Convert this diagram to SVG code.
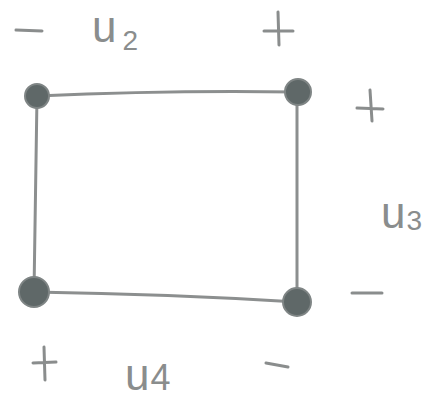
<svg xmlns="http://www.w3.org/2000/svg" width="426" height="401" viewBox="0 0 426 401">
<style>
.edge{stroke:#8c8f8f;stroke-width:3;fill:none;stroke-linecap:round}
.node{fill:#5f6868;stroke:#7f8585;stroke-width:2}
.lbl{font-family:"Liberation Sans",sans-serif;fill:#8a8d8d;font-size:44px}
.sub{font-size:28px}
.sign{stroke:#8a8d8d;stroke-width:3;stroke-linecap:round;fill:none}
</style>
<rect width="426" height="401" fill="#ffffff"/>
<g id="connectors">
<path class="edge" d="M37,96 Q170,90 297,92"/>
<path class="edge" d="M37,96 L34,292"/>
<path class="edge" d="M297,92 L297,302"/>
<path class="edge" d="M34,292 Q170,294 297,302"/>
</g>
<g id="n1"><circle class="node" cx="37" cy="96" r="12"/></g>
<g id="n2"><circle class="node" cx="298" cy="92" r="13"/></g>
<g id="n3"><circle class="node" cx="34" cy="292" r="15"/></g>
<g id="n4"><circle class="node" cx="297" cy="302" r="14"/></g>
<g id="labels">
<path class="sign" d="M16,30 L42,31"/>
<text class="lbl" x="92" y="42">u<tspan class="sub" dx="6" dy="8">2</tspan></text>
<path class="sign" d="M264,31 L293,31 M278,12 L279,45"/>
<path class="sign" d="M357,108 L383,109 M370,90 L372,121"/>
<text class="lbl" x="381" y="228">u<tspan class="sub" dx="1" dy="2">3</tspan></text>
<path class="sign" d="M352,293 L382,293"/>
<path class="sign" d="M33,363 L56,362 M44,347 L45,380"/>
<text class="lbl" x="125" y="390">u<tspan dx="1" font-size="36">4</tspan></text>
<path class="sign" d="M266,363 L288,367"/>
</g>
</svg>
